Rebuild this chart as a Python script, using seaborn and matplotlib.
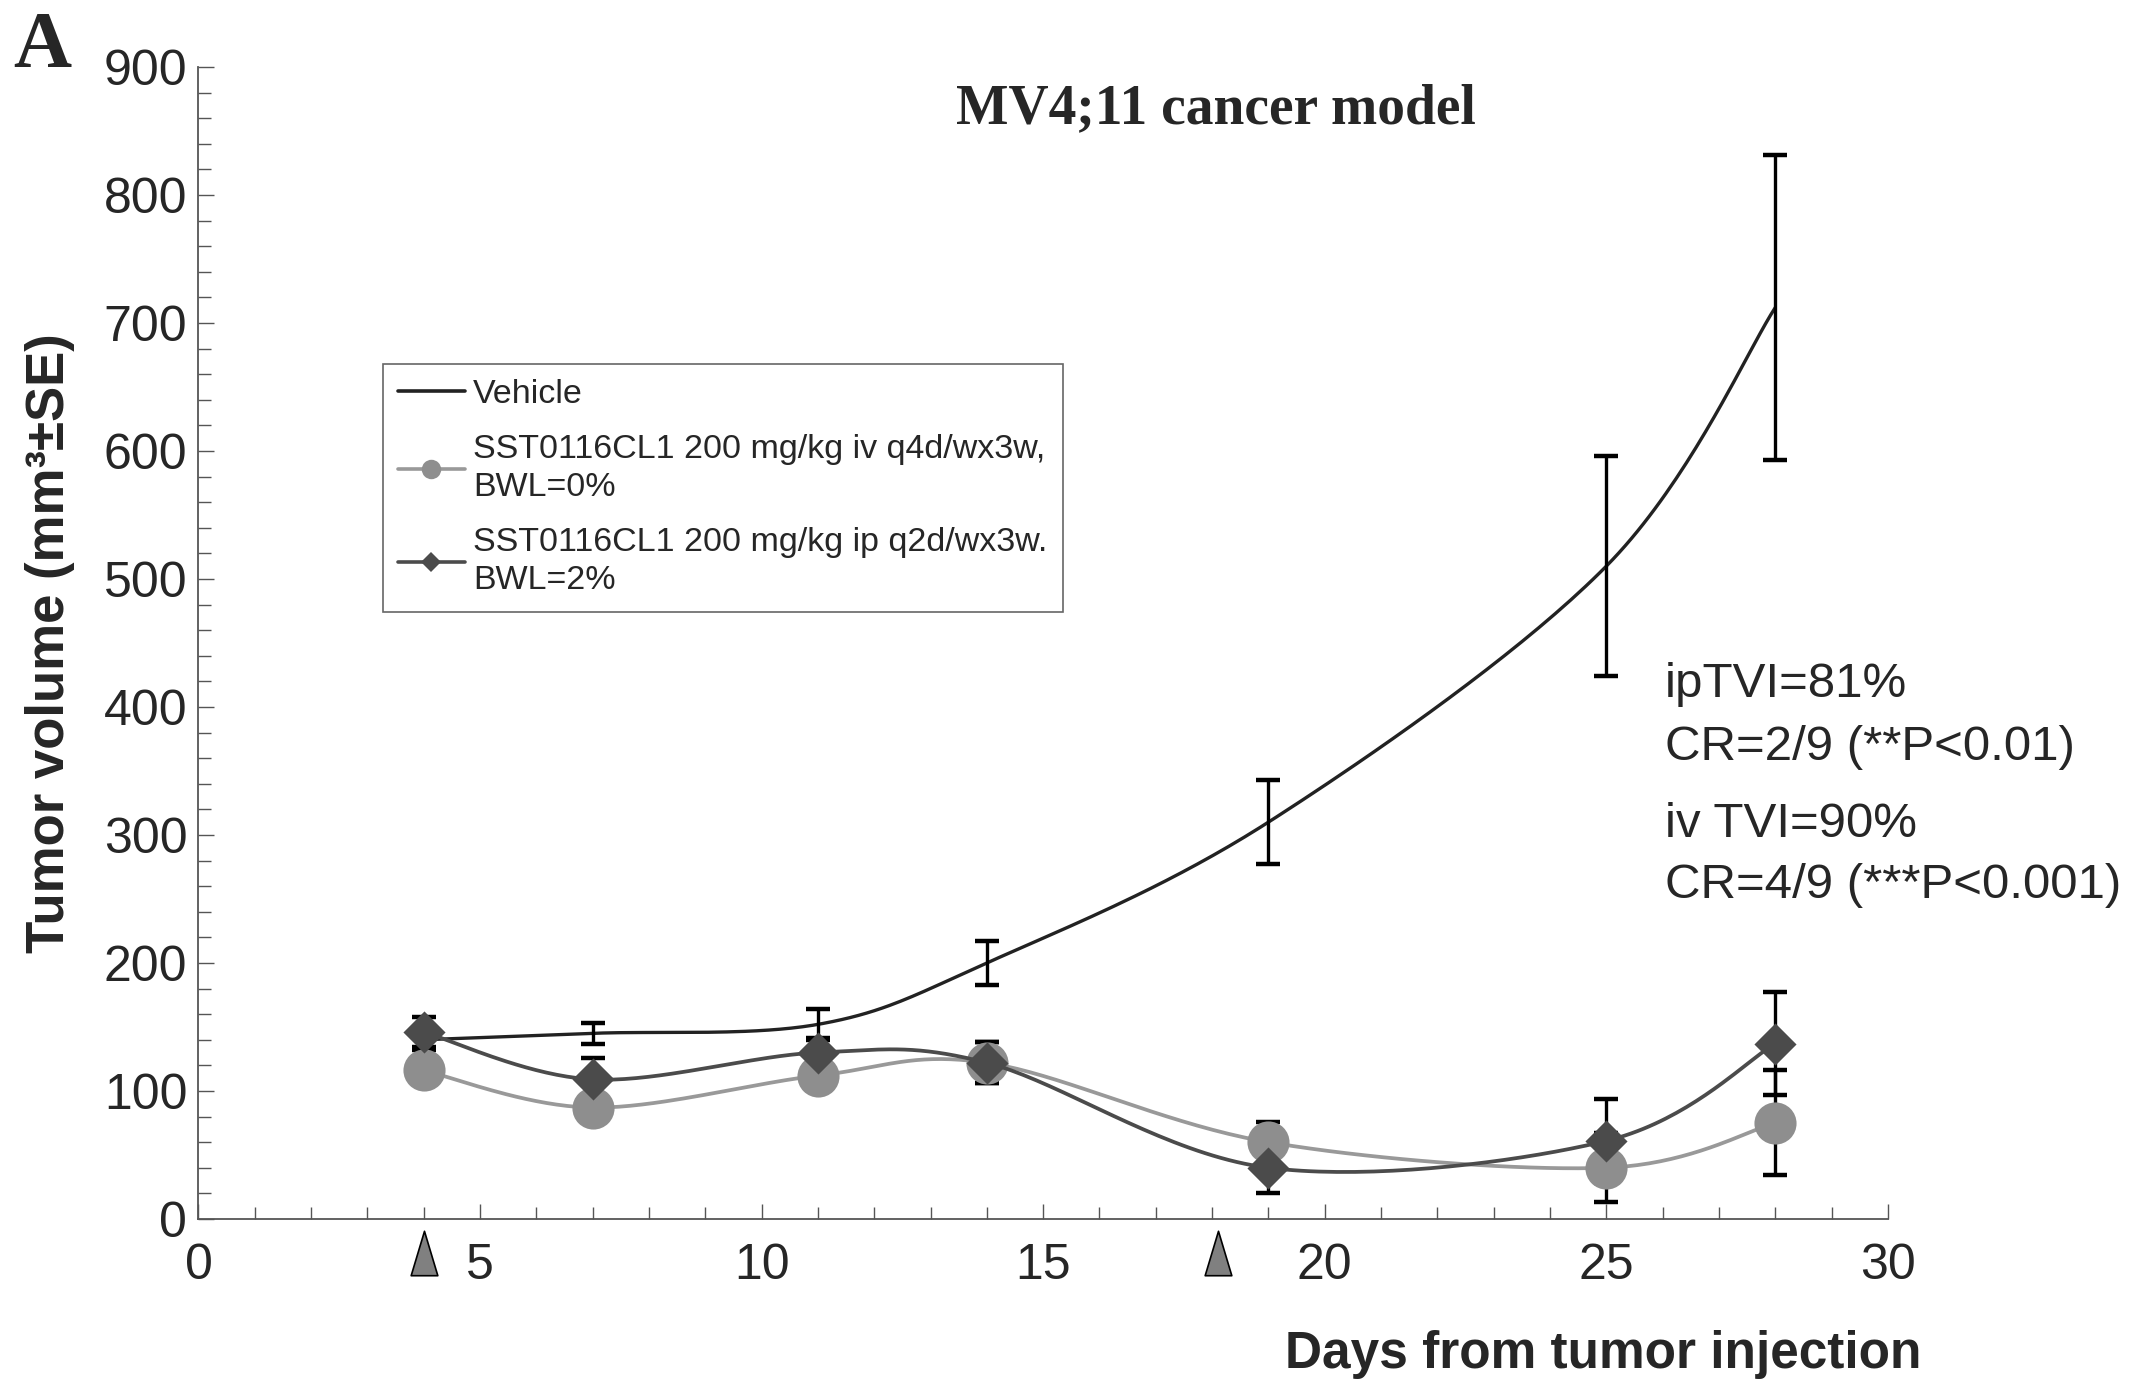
import numpy as np
import seaborn as sns
import matplotlib
matplotlib.use("Agg")
import matplotlib.pyplot as plt
import matplotlib.transforms as mtransforms
from matplotlib.lines import Line2D
from matplotlib.path import Path

sns.set_style("ticks")
plt.rcParams['font.family'] = ['Liberation Sans', 'DejaVu Sans']

# data
days = [4, 7, 11, 14, 19, 25, 28]
vehicle = [140, 145, 152, 200, 310, 510, 712]
vehicle_se = [8, 8, 12, 17, 33, 86, 119]
iv = [116, 87, 112, 122, 60, 40, 75]
iv_se = [8, 7, 9, 16, 16, 27, 41]
ip = [146, 109, 130, 122, 40, 61, 137]
ip_se = [12, 17, 11, 16, 20, 33, 40]
dose_days = [4, 18.1]

labels = ["Vehicle",
          "SST0116CL1 200 mg/kg iv q4d/wx3w,\nBWL=0%",
          "SST0116CL1 200 mg/kg ip q2d/wx3w.\nBWL=2%"]
notes = ["ipTVI=81%", "CR=2/9 (**P<0.01)", "iv TVI=90%", "CR=4/9 (***P<0.001)"]

c_veh = '#222222'
c_iv = '#8e8e8e'
c_ip = '#4b4b4b'
c_axis = '#555555'


def smooth(xs, ys, n=40):
    # excel style smoothed line (bezier through the points)
    p = np.column_stack([xs, ys]).astype(float)
    p = np.vstack([p[0], p, p[-1]])
    t = np.linspace(0, 1, n)[:, None]
    segs = []
    for i in range(1, len(p) - 2):
        p0, p1, p2, p3 = p[i - 1], p[i], p[i + 1], p[i + 2]
        c1 = p1 + (p2 - p0) / 6
        c2 = p2 - (p3 - p1) / 6
        segs.append((1 - t) ** 3 * p1 + 3 * (1 - t) ** 2 * t * c1 + 3 * (1 - t) * t ** 2 * c2 + t ** 3 * p2)
    s = np.vstack(segs)
    return s[:, 0], s[:, 1]


fig = plt.figure(figsize=(21.5, 13.88), dpi=100)
ax = fig.add_axes([0.0923, 0.1218, 0.7858, 0.830])

# vehicle
sx, sy = smooth(days, vehicle)
ax.plot(sx, sy, color=c_veh, lw=2.4, zorder=2)
for vals, err in [(vehicle, vehicle_se), (iv, iv_se), (ip, ip_se)]:
    ax.errorbar(days, vals, yerr=err, fmt='none', ecolor='black',
                elinewidth=2.4, capsize=8.3, capthick=3.2, zorder=3)

# iv
sx, sy = smooth(days, iv)
ax.plot(sx, sy, color='#999999', lw=2.7, zorder=4)
sns.scatterplot(x=days, y=iv, ax=ax, marker='o', s=920, color=c_iv,
                linewidth=0, zorder=4.5)

# ip
sx, sy = smooth(days, ip)
ax.plot(sx, sy, color=c_ip, lw=2.7, zorder=5)
sns.scatterplot(x=days, y=ip, ax=ax, marker='D', s=460, color=c_ip,
                linewidth=0, zorder=5.5)

# axes
ax.set_xlim(0, 30)
ax.set_ylim(0, 900)
ax.set_xticks(range(0, 31, 5))
ax.set_xticks(range(0, 31), minor=True)
ax.set_yticks(range(0, 901, 100))
ax.set_yticks(range(0, 901, 20), minor=True)
sns.despine(ax=ax)
for s in ['left', 'bottom']:
    ax.spines[s].set_color(c_axis)
    ax.spines[s].set_linewidth(1.3)
ax.tick_params(axis='x', which='major', direction='in', length=11, width=1, color=c_axis,
               labelsize=36, pad=17)
ax.tick_params(axis='x', which='minor', direction='in', length=8.5, width=1, color=c_axis)
ax.tick_params(axis='y', which='major', direction='in', length=11.5, width=1, color=c_axis,
               labelsize=36, pad=8)
ax.tick_params(axis='y', which='minor', direction='in', length=9, width=1, color=c_axis)

# dosing arrows below the axis
tri = Path([(-0.3, -0.5), (0.3, -0.5), (0, 0.5), (-0.3, -0.5)],
           [Path.MOVETO, Path.LINETO, Path.LINETO, Path.CLOSEPOLY])
trans = mtransforms.blended_transform_factory(ax.transData, ax.transAxes)
ax.plot(dose_days, [-0.0295] * len(dose_days), transform=trans, clip_on=False,
        ls='none', marker=tri, markersize=32, markerfacecolor='#808080',
        markeredgecolor='black', markeredgewidth=1.2)

# legend
handles = [Line2D([], [], color=c_veh, lw=2.6),
           Line2D([], [], color='#999999', lw=2.6, marker='o', markersize=14,
                  markerfacecolor=c_iv, markeredgewidth=0),
           Line2D([], [], color=c_ip, lw=2.6, marker='D', markersize=10,
                  markerfacecolor=c_ip, markeredgewidth=0)]
leg = ax.legend(handles, labels, loc='upper left', bbox_to_anchor=(383 / 2150, 1 - 364 / 1388),
                bbox_transform=fig.transFigure, borderaxespad=0, fontsize=24.5,
                frameon=True, fancybox=False, edgecolor='#666666', framealpha=1,
                borderpad=0.45, handlelength=1.95, handletextpad=0.25, labelspacing=0.7)
leg.get_frame().set_linewidth(1.2)
for t in leg.get_texts():
    t.set_linespacing(1.3)

# texts
fig.text(13 / 2150, 1 - 67 / 1388, 'A', family='Liberation Serif', weight='bold',
         size=58, ha='left', va='baseline')
fig.text(1216 / 2150, 1 - 123 / 1388, 'MV4;11 cancer model', family='Liberation Serif',
         weight='bold', size=40, ha='center', va='baseline')
fig.text(1603 / 2150, 1 - 1368 / 1388, 'Days from tumor injection', weight='bold',
         size=37, ha='center', va='baseline')
fig.text(50 / 2150, 1 - 643 / 1388, 'Tumor volume (mm³±SE)', weight='bold',
         size=38, ha='center', va='center', rotation=90)
for txt, base in zip(notes, [697, 760, 837, 898]):
    fig.text(1665 / 2150, 1 - base / 1388, txt, size=35.5, ha='left', va='baseline')

fig.savefig('out.png', dpi=100)
